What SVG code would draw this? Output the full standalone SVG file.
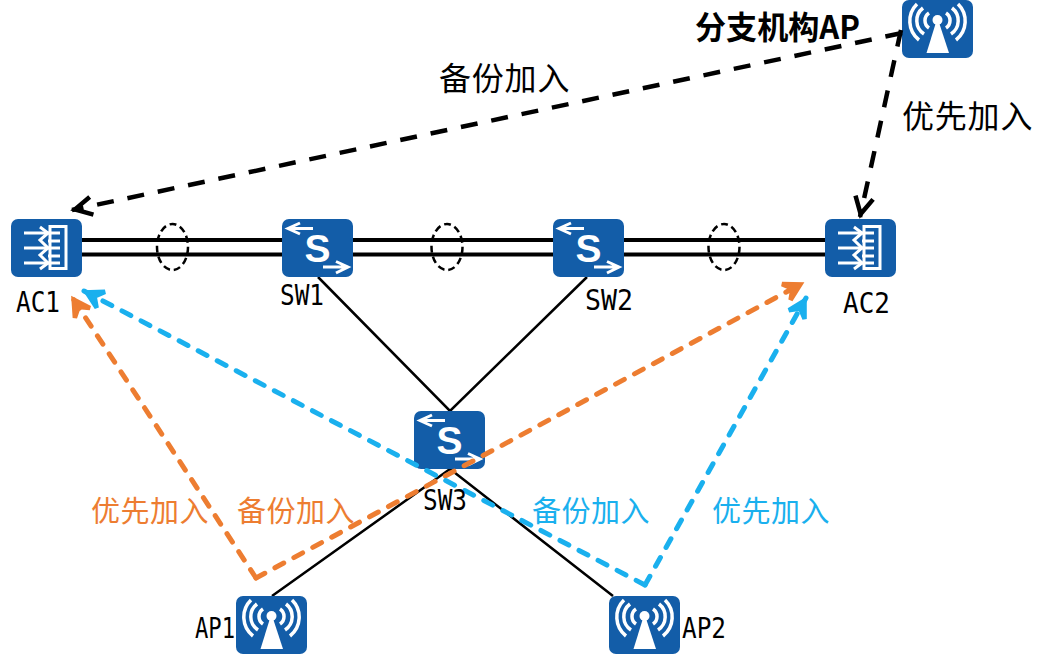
<svg xmlns="http://www.w3.org/2000/svg" xmlns:xlink="http://www.w3.org/1999/xlink" width="1053" height="655" viewBox="0 0 1053 655">
<style>
.box{fill:#135da8}
.w3{fill:none;stroke:#fff;stroke-width:3}
.arc{fill:none;stroke:#fff;stroke-width:3.500}
.wf{fill:#fff}
.cj{font-family:"Noto Sans CJK SC","Noto Sans",sans-serif;font-size:29px;letter-spacing:.5px}
.big{font-size:32px;letter-spacing:.8px;fill:#000}
.lb{font-family:"DejaVu Sans Mono","Liberation Mono",monospace;font-size:29px;fill:#000}
.trunk{stroke:#000;stroke-width:4;fill:none}
.thin{stroke:#000;stroke-width:2.500;fill:none}
.ring{fill:none;stroke:#000;stroke-width:2.500;stroke-dasharray:7 4}
.k{fill:none;stroke:#000;stroke-width:4.500;stroke-dasharray:17 14}
.o{fill:none;stroke:#ed7d31;stroke-width:5;stroke-linecap:round;stroke-dasharray:10 11.500}
.b{fill:none;stroke:#1ab0ee;stroke-width:5;stroke-linecap:round;stroke-dasharray:10 11.500}
</style>
<defs>
<marker id="ak" markerUnits="userSpaceOnUse" markerWidth="30" markerHeight="30" refX="24" refY="15" orient="auto"><path d="M4 6L21 15L4 24" fill="none" stroke="#000" stroke-width="4.500"/></marker>
<marker id="ao" markerUnits="userSpaceOnUse" markerWidth="30" markerHeight="30" refX="24" refY="15" orient="auto"><path d="M5 6L21 15L5 24L12 15Z" fill="#ed7d31" stroke="#ed7d31" stroke-width="4.500" stroke-linejoin="miter"/></marker>
<marker id="ab" markerUnits="userSpaceOnUse" markerWidth="30" markerHeight="30" refX="24" refY="15" orient="auto"><path d="M5 6L21 15L5 24L12 15Z" fill="#1ab0ee" stroke="#1ab0ee" stroke-width="4.500" stroke-linejoin="miter"/></marker>
<g id="ac">
<rect class="box" width="71" height="58" rx="7"/>
<path class="w3" d="M39 7.500H55V49.500H39Z"/>
<path class="w3" d="M13 14H37M13 29H37M13 44H37M37 22H49M37 37H49M37 14H49M37 29H49M37 44H49"/>
<path class="w3" d="M29 8L37 14L29 21L37 29L29 36L37 44L29 50"/>
</g>
<g id="sw">
<rect class="box" width="71" height="58" rx="7"/>
<path class="w3" d="M6 9.500H31M18 4L6 9.500L18 15M41 48H66M54 42.500L66 48L54 54"/>
<text x="35.500" y="43" text-anchor="middle" font-family="Liberation Sans,sans-serif" font-weight="bold" font-size="39" fill="#fff">S</text>
</g>
<g id="ap">
<rect class="box" width="71" height="58" rx="7"/>
<circle class="wf" cx="35.500" cy="20" r="5"/>
<path class="wf" d="M33.500 24H37.500L47 53H24.500Z"/>
<path class="arc" d="M27 13A9 9 0 0 0 27 28M44 13A9 9 0 0 1 44 28M21 8A16 16 0 0 0 22 34M50 8A16 16 0 0 1 49 34M15 4A24 24 0 0 0 17 40M56 4A24 24 0 0 1 54 40"/>
</g>
</defs>
<g id="connectors-lower">
<path class="trunk" d="M82 240H825M82 254.500H825"/>
<ellipse class="ring" cx="172.500" cy="247" rx="15.500" ry="23"/>
<ellipse class="ring" cx="447" cy="247" rx="15.500" ry="23"/>
<ellipse class="ring" cx="724" cy="247" rx="15.500" ry="23"/>
<path class="thin" d="M318 277L450 411L587 277M450 469L272 596M450 469L613 596"/>
</g>
<use id="AC1" xlink:href="#ac" href="#ac" x="11" y="219"/>
<use id="SW1" xlink:href="#sw" href="#sw" x="282" y="219"/>
<use id="SW2" xlink:href="#sw" href="#sw" x="553" y="219"/>
<use id="AC2" xlink:href="#ac" href="#ac" x="825" y="219"/>
<use id="SW3" xlink:href="#sw" href="#sw" x="414" y="411"/>
<use id="AP1" xlink:href="#ap" href="#ap" x="236" y="596"/>
<use id="AP2" xlink:href="#ap" href="#ap" x="609" y="596"/>
<use id="BranchAP" xlink:href="#ap" href="#ap" x="902" y="0"/>
<g id="connectors">
<path class="k" marker-end="url(#ak)" d="M902 33L72 210"/>
<path class="k" marker-end="url(#ak)" d="M901 30L860 217"/>
<path class="o" marker-end="url(#ao)" d="M256 578L72 297"/>
<path class="o" marker-end="url(#ao)" d="M256 578L803 283"/>
<path class="b" marker-end="url(#ab)" d="M645 585L84 291"/>
<path class="b" marker-end="url(#ab)" d="M645 585L806 298"/>
</g>
<g id="labels">
<text class="cj" x="695" y="39" font-weight="bold" fill="#000" style="font-size:32px;letter-spacing:0" textLength="165" lengthAdjust="spacingAndGlyphs">分支机构AP</text>
<text class="cj big" x="439" y="90">备份加入</text>
<text class="cj big" x="902" y="128">优先加入</text>
<text class="cj" x="91" y="522" fill="#ed7d31">优先加入</text>
<text class="cj" x="237" y="522" fill="#ed7d31">备份加入</text>
<text class="cj" x="532" y="522" fill="#1ab0ee">备份加入</text>
<text class="cj" x="712" y="522" fill="#1ab0ee">优先加入</text>
<text class="lb" x="16" y="312" textLength="44" lengthAdjust="spacingAndGlyphs">AC1</text>
<text class="lb" x="280" y="305" textLength="44" lengthAdjust="spacingAndGlyphs">SW1</text>
<text class="lb" x="585" y="310" textLength="48" lengthAdjust="spacingAndGlyphs">SW2</text>
<text class="lb" x="843" y="313" textLength="47" lengthAdjust="spacingAndGlyphs">AC2</text>
<text class="lb" x="423" y="510" textLength="44" lengthAdjust="spacingAndGlyphs">SW3</text>
<text class="lb" x="195" y="638" textLength="40" lengthAdjust="spacingAndGlyphs">AP1</text>
<text class="lb" x="682" y="638" textLength="44" lengthAdjust="spacingAndGlyphs">AP2</text>
</g>
</svg>
